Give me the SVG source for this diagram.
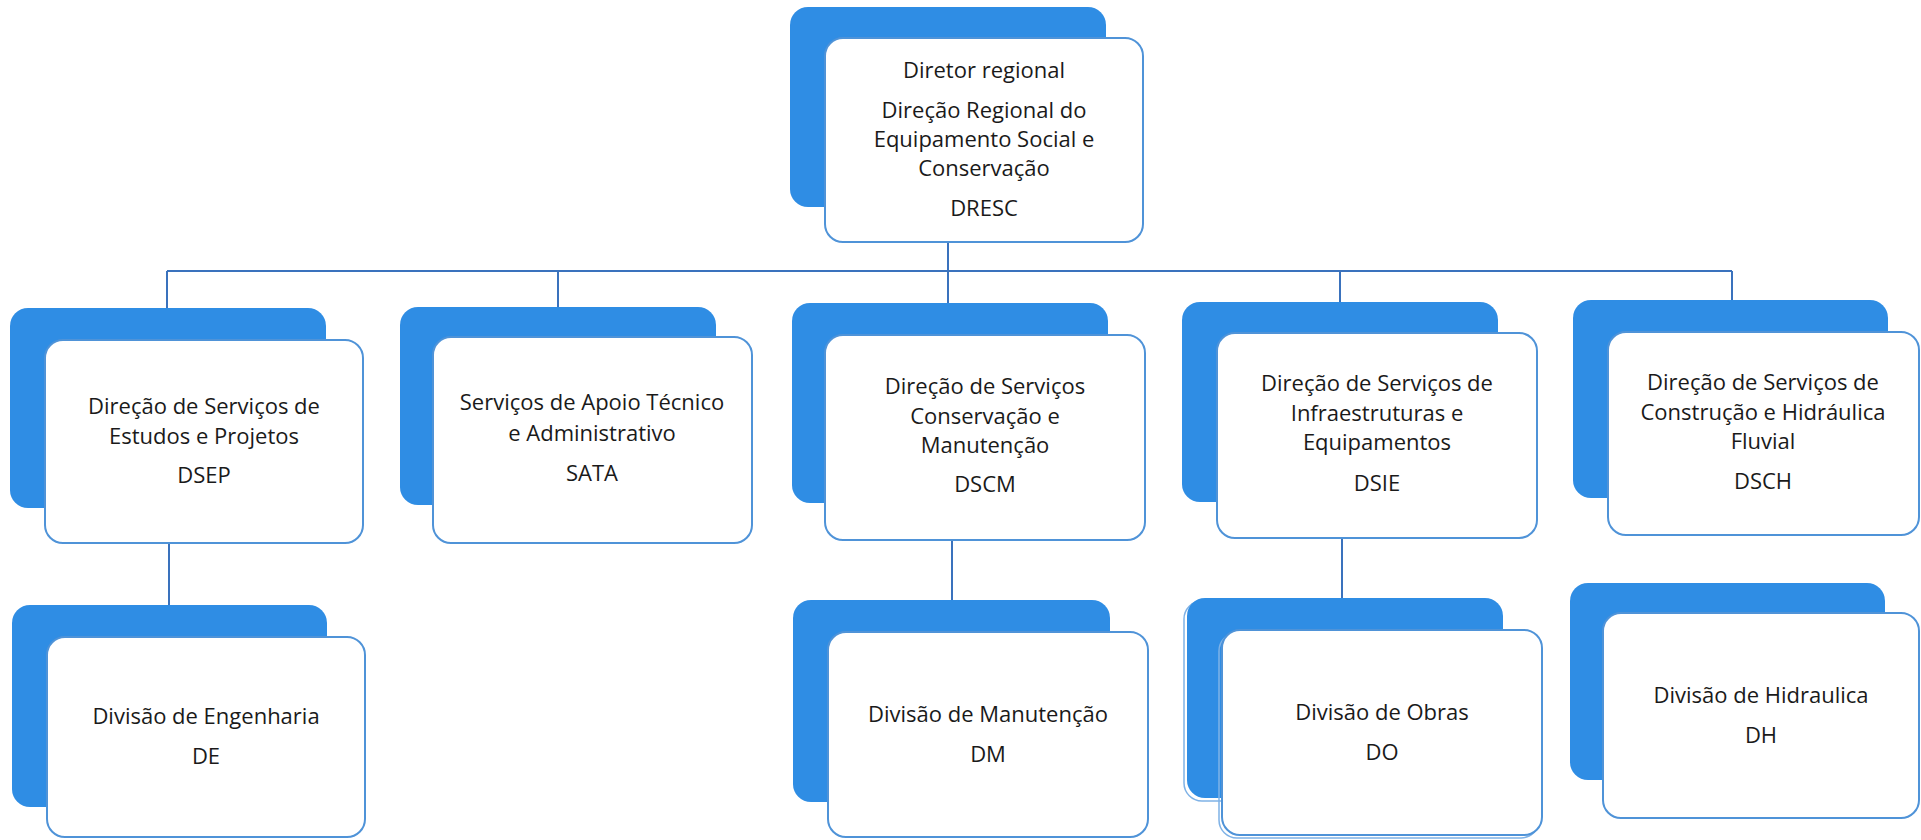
<svg xmlns="http://www.w3.org/2000/svg" width="1921" height="840" viewBox="0 0 1921 840">
<style>
.back{fill:#2f8de4;}
.front{fill:#ffffff;stroke:#4f93d8;stroke-width:2;}
.ghost{fill:none;stroke:#7fb2e6;stroke-width:1.5;}
.t{font-family:"Open Sans","Noto Sans",sans-serif;font-size:22px;fill:#1a1a1a;text-anchor:middle;}
.c{stroke:#3a72bd;stroke-width:2;fill:none;}
</style>
<rect width="1921" height="840" fill="#ffffff"/>
<g id="connectors">
<line class="c" x1="948" y1="242" x2="948" y2="271"/>
<line class="c" x1="167" y1="271" x2="1732" y2="271"/>
<line class="c" x1="167" y1="271" x2="167" y2="308"/>
<line class="c" x1="558" y1="271" x2="558" y2="307"/>
<line class="c" x1="948" y1="271" x2="948" y2="303"/>
<line class="c" x1="1340" y1="271" x2="1340" y2="302"/>
<line class="c" x1="1732" y1="271" x2="1732" y2="300"/>
<line class="c" x1="169" y1="543" x2="169" y2="605"/>
<line class="c" x1="952" y1="540" x2="952" y2="600"/>
<line class="c" x1="1342" y1="538" x2="1342" y2="598"/>
</g>
<g id="DRESC">
<rect class="back" x="790" y="7" width="316" height="200" rx="18"/>
<rect class="front" x="825" y="38" width="318" height="204" rx="18"/>
<text class="t" x="984" y="78">Diretor regional</text>
<text class="t" x="984" y="118">Direção Regional do</text>
<text class="t" x="984" y="147">Equipamento Social e</text>
<text class="t" x="984" y="176">Conservação</text>
<text class="t" x="984" y="216">DRESC</text>
</g>
<g id="DSEP">
<rect class="back" x="10" y="308" width="316" height="200" rx="18"/>
<rect class="front" x="45" y="340" width="318" height="203" rx="18"/>
<text class="t" x="204" y="414">Direção de Serviços de</text>
<text class="t" x="204" y="444">Estudos e Projetos</text>
<text class="t" x="204" y="483">DSEP</text>
</g>
<g id="SATA">
<rect class="back" x="400" y="307" width="316" height="198" rx="18"/>
<rect class="front" x="433" y="337" width="319" height="206" rx="18"/>
<text class="t" x="592" y="410">Serviços de Apoio Técnico</text>
<text class="t" x="592" y="441">e Administrativo</text>
<text class="t" x="592" y="481">SATA</text>
</g>
<g id="DSCM">
<rect class="back" x="792" y="303" width="316" height="200" rx="18"/>
<rect class="front" x="825" y="335" width="320" height="205" rx="18"/>
<text class="t" x="985" y="394">Direção de Serviços</text>
<text class="t" x="985" y="424">Conservação e</text>
<text class="t" x="985" y="453">Manutenção</text>
<text class="t" x="985" y="492">DSCM</text>
</g>
<g id="DSIE">
<rect class="back" x="1182" y="302" width="316" height="200" rx="18"/>
<rect class="front" x="1217" y="333" width="320" height="205" rx="18"/>
<text class="t" x="1377" y="391">Direção de Serviços de</text>
<text class="t" x="1377" y="421">Infraestruturas e</text>
<text class="t" x="1377" y="450">Equipamentos</text>
<text class="t" x="1377" y="491">DSIE</text>
</g>
<g id="DSCH">
<rect class="back" x="1573" y="300" width="315" height="198" rx="18"/>
<rect class="front" x="1608" y="332" width="311" height="203" rx="18"/>
<text class="t" x="1763" y="390">Direção de Serviços de</text>
<text class="t" x="1763" y="420">Construção e Hidráulica</text>
<text class="t" x="1763" y="449">Fluvial</text>
<text class="t" x="1763" y="489">DSCH</text>
</g>
<g id="DE">
<rect class="back" x="12" y="605" width="315" height="202" rx="18"/>
<rect class="front" x="47" y="637" width="318" height="200" rx="18"/>
<text class="t" x="206" y="724">Divisão de Engenharia</text>
<text class="t" x="206" y="764">DE</text>
</g>
<g id="DM">
<rect class="back" x="793" y="600" width="317" height="202" rx="18"/>
<rect class="front" x="828" y="632" width="320" height="205" rx="18"/>
<text class="t" x="988" y="722">Divisão de Manutenção</text>
<text class="t" x="988" y="762">DM</text>
</g>
<g id="DO">
<rect class="ghost" x="1184" y="601" width="316" height="200" rx="18"/>
<rect class="back" x="1187" y="598" width="316" height="200" rx="18"/>
<rect class="ghost" x="1219" y="633" width="320" height="205" rx="18"/>
<rect class="front" x="1222" y="630" width="320" height="205" rx="18"/>
<text class="t" x="1382" y="720">Divisão de Obras</text>
<text class="t" x="1382" y="760">DO</text>
</g>
<g id="DH">
<rect class="back" x="1570" y="583" width="315" height="197" rx="18"/>
<rect class="front" x="1603" y="613" width="316" height="205" rx="18"/>
<text class="t" x="1761" y="703">Divisão de Hidraulica</text>
<text class="t" x="1761" y="743">DH</text>
</g>
</svg>
